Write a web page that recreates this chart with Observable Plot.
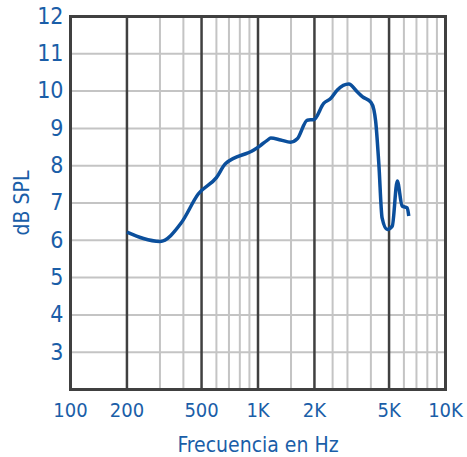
<!DOCTYPE html>
<html>
<head>
<meta charset="utf-8">
<script src="https://cdn.jsdelivr.net/npm/d3@7"></script>
<script src="https://cdn.jsdelivr.net/npm/@observablehq/plot@0.6"></script>
<style>
  html, body { margin: 0; padding: 0; background: #fff; }
  #chart svg { display: block; }
</style>
</head>
<body>
<div id="chart"></div>
<script>
// Frequency response data (Hz, dB SPL)
const freqs = [200, 300, 390, 480, 600, 670, 950, 1030, 1120, 1170, 1320, 1490, 1620, 1830, 1990, 2240, 2440, 2650, 3050, 3380, 3600, 4000, 4150, 4240, 4410, 4590, 4890, 5200, 5530, 5870, 6250, 6370];
const spl   = [6.22, 5.97, 6.47, 7.24, 7.68, 8.05, 8.42, 8.54, 8.68, 8.74, 8.69, 8.63, 8.72, 9.22, 9.24, 9.67, 9.80, 10.03, 10.19, 9.98, 9.85, 9.70, 9.50, 9.20, 8.05, 6.60, 6.29, 6.38, 7.59, 6.92, 6.87, 6.65];

const xTicks = [100, 200, 500, 1000, 2000, 5000, 10000];
const xTickLabels = ["100", "200", "500", "1K", "2K", "5K", "10K"];
const majorGrid = [200, 500, 1000, 2000, 5000];
const minorGrid = [300, 400, 600, 700, 800, 900, 1500, 2500, 3000, 4000, 6000, 7000, 8000, 9000];
const yGrid = [3, 4, 5, 6, 7, 8, 9, 10, 11];
const yTicks = [3, 4, 5, 6, 7, 8, 9, 10, 11, 12];

const data = freqs.map((f, i) => ({f, v: spl[i]}));
const blue = "#1a5ea8";
const font = "'Liberation Sans Narrow', 'DejaVu Sans Condensed', 'Liberation Sans', sans-serif";

const chart = Plot.plot({
  width: 467,
  height: 457,
  marginLeft: 70,
  marginRight: 22,
  marginTop: 16,
  marginBottom: 68,
  style: {fontFamily: font, background: "#fff"},
  x: {type: "log", domain: [100, 10000]},
  y: {domain: [2, 12]},
  marks: [
    Plot.ruleX(minorGrid, {stroke: "#c4c4c4", strokeWidth: 2}),
    Plot.ruleY(yGrid, {stroke: "#c4c4c4", strokeWidth: 2}),
    Plot.ruleX(majorGrid, {stroke: "#404040", strokeWidth: 2.5}),
    Plot.frame({stroke: "#404040", strokeWidth: 3}),
    Plot.axisX({
      ticks: xTicks,
      tickFormat: (d) => xTickLabels[xTicks.indexOf(d)],
      tickSize: 0,
      tickPadding: 13,
      fontSize: 20,
      color: blue,
      label: "Frecuencia en Hz",
      labelAnchor: "center",
      labelArrow: "none",
      labelOffset: 62
    }),
    Plot.axisY({
      ticks: yTicks,
      tickSize: 0,
      tickPadding: 7,
      fontSize: 23,
      color: blue,
      label: "dB SPL",
      labelAnchor: "center",
      labelArrow: "none",
      labelOffset: 56
    }),
    Plot.line(data, {x: "f", y: "v", stroke: "#0b4f9c", strokeWidth: 3.5, curve: "monotone-x", strokeLinejoin: "round", strokeLinecap: "butt"})
  ]
});
chart.querySelectorAll("g[aria-label='x-axis label'], g[aria-label='y-axis label']").forEach(g => {
  g.setAttribute("font-size", "21");
  g.setAttribute("fill", blue);
});
document.getElementById("chart").appendChild(chart);
</script>
</body>
</html>
